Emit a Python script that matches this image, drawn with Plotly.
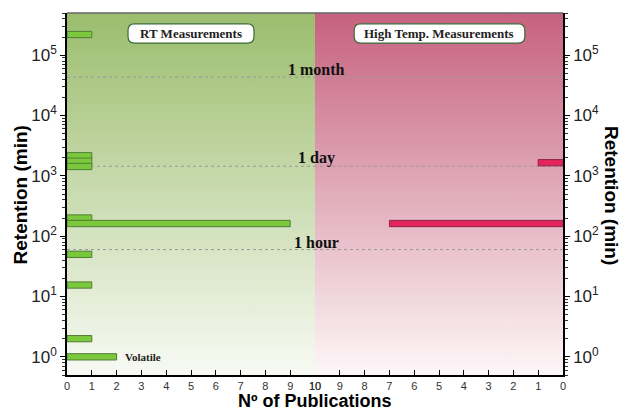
import numpy as np
import plotly.graph_objects as go

# Retention time (min) of reported devices and number of publications
rt_retention = [2.2e5, 2150, 1750, 1430, 200, 162, 50, 15.5, 2.0, 1.0]
rt_publications = [1, 1, 1, 1, 1, 9, 1, 1, 1, 2]
ht_retention = [1650, 162]
ht_publications = [1, 7]

# Reference durations drawn as dotted guides
milestone_labels = ["1 month", "1 day", "1 hour"]
milestone_minutes = [43200, 1440, 60]

x_ticks = list(range(0, 11))
y_decades = [0, 1, 2, 3, 4, 5]
y_min, y_max = 0.5, 5e5
x_max = 10

HALF = 0.052  # bar half thickness, in decades

GREEN_FILL, GREEN_EDGE = "#7bc83c", "#4f7f35"
PINK_FILL, PINK_EDGE = "#e4245c", "#8e2446"
SERIF = "Liberation Serif"
SANS = "Liberation Sans"


def bar_shape(count, value):
    k = 10 ** HALF
    xs = [0, count, count, 0, 0]
    ys = [value / k, value / k, value * k, value * k, value / k]
    return xs, ys


fig = go.Figure()

# gradient backgrounds for the two panels
for xa, ya, top in [("x", "y", "#9bbd6d"), ("x2", "y2", "#c6617f")]:
    bottom = "#f8faf4" if xa == "x" else "#fdf7f8"
    fig.add_trace(go.Scatter(
        x=[0, x_max, x_max, 0, 0], y=[y_min, y_min, y_max, y_max, y_min],
        mode="lines", line=dict(width=0), fill="toself",
        fillgradient=dict(type="vertical", colorscale=[[0, bottom], [1, top]]),
        xaxis=xa, yaxis=ya, hoverinfo="skip", showlegend=False))

# dotted guides
for m in milestone_minutes:
    for xa, ya in [("x", "y"), ("x2", "y2")]:
        fig.add_trace(go.Scatter(
            x=[0, x_max], y=[m, m], mode="lines",
            line=dict(color="#9a9a9a", width=1, dash="dot"),
            xaxis=xa, yaxis=ya, hoverinfo="skip", showlegend=False))

# bars
for ret, n in zip(rt_retention, rt_publications):
    xs, ys = bar_shape(n, ret)
    fig.add_trace(go.Scatter(
        x=xs, y=ys, mode="lines", fill="toself", fillcolor=GREEN_FILL,
        line=dict(color=GREEN_EDGE, width=1), xaxis="x", yaxis="y",
        showlegend=False, name="RT"))
for ret, n in zip(ht_retention, ht_publications):
    xs, ys = bar_shape(n, ret)
    fig.add_trace(go.Scatter(
        x=xs, y=ys, mode="lines", fill="toself", fillcolor=PINK_FILL,
        line=dict(color=PINK_EDGE, width=1), xaxis="x2", yaxis="y2",
        showlegend=False, name="High Temp."))

tickvals = [10 ** d for d in y_decades]
ticktext = [f"10<sup>{d}</sup>" for d in y_decades]
minor_vals = [m * 10 ** e for e in range(-1, 6) for m in range(2, 10)
              if y_min <= m * 10 ** e <= y_max]

x_common = dict(tickvals=x_ticks, ticks="inside", ticklen=5,
                tickcolor="black", showline=True, linecolor="black", linewidth=1.5,
                showgrid=False, zeroline=False,
                tickfont=dict(family=SANS, size=11, color="#333"))
y_common = dict(type="log", range=[np.log10(y_min), np.log10(y_max)],
                tickvals=tickvals, ticktext=ticktext, ticks="outside", ticklen=5,
                tickcolor="black", showline=True, linecolor="black", linewidth=1.5,
                showgrid=False, zeroline=False,
                minor=dict(tickvals=minor_vals, ticks="outside", ticklen=3,
                           tickcolor="#333", showgrid=False),
                tickfont=dict(family=SANS, size=17, color="#222"))

fig.update_layout(
    width=622, height=410,
    margin=dict(l=67, r=59, t=13, b=35),
    paper_bgcolor="white", plot_bgcolor="white",
    xaxis=dict(domain=[0, 0.5], anchor="y", range=[0, x_max], **x_common),
    xaxis2=dict(domain=[0.5, 1], anchor="y", range=[x_max, 0], **x_common),
    yaxis=dict(anchor="x", side="left", **y_common),
    yaxis2=dict(anchor="x2", side="right", overlaying="y", **y_common),
)

# top frame line
fig.add_shape(type="line", xref="paper", yref="paper", x0=0, x1=1, y0=1, y1=1,
              line=dict(color="#666", width=1.5))


def rounded_box(x0, x1, y0, y1, rx, ry):
    return (f"M {x0 + rx},{y0} L {x1 - rx},{y0} Q {x1},{y0} {x1},{y0 + ry} "
            f"L {x1},{y1 - ry} Q {x1},{y1} {x1 - rx},{y1} L {x0 + rx},{y1} "
            f"Q {x0},{y1} {x0},{y1 - ry} L {x0},{y0 + ry} Q {x0},{y0} {x0 + rx},{y0} Z")


panel_titles = [("RT Measurements", 0.123, 0.377), ("High Temp. Measurements", 0.579, 0.923)]
for text, bx0, bx1 in panel_titles:
    fig.add_shape(type="path", xref="paper", yref="paper",
                  path=rounded_box(bx0, bx1, 0.917, 0.970, 0.013, 0.018),
                  fillcolor="white", line=dict(color="#3b6b3b", width=1.2))
    fig.add_annotation(text=f"<b>{text}</b>", xref="paper", yref="paper",
                       x=(bx0 + bx1) / 2, y=0.9435, xanchor="center", yanchor="middle",
                       showarrow=False,
                       font=dict(family=SERIF, size=13, color="#222"))

for label, m in zip(milestone_labels, milestone_minutes):
    fig.add_annotation(text=f"<b>{label}</b>", xref="paper", yref="y", x=0.504, y=np.log10(m),
                       xanchor="center", yanchor="bottom", yshift=-3, showarrow=False,
                       font=dict(family=SERIF, size=16, color="#111"))

fig.add_annotation(text="<b>Volatile</b>", xref="x", yref="y",
                   x=rt_publications[-1], y=np.log10(rt_retention[-1]),
                   xanchor="left", yanchor="middle", xshift=6, showarrow=False,
                   font=dict(family=SERIF, size=11, color="#222"))

# axis titles
fig.add_annotation(text="<b>Retention (min)</b>", xref="paper", yref="paper",
                   x=-0.094, y=0.497, xanchor="center", yanchor="middle",
                   textangle=-90, showarrow=False,
                   font=dict(family=SANS, size=19, color="black"))
fig.add_annotation(text="<b>Retention (min)</b>", xref="paper", yref="paper",
                   x=1.099, y=0.497, xanchor="center", yanchor="middle",
                   textangle=90, showarrow=False,
                   font=dict(family=SANS, size=19, color="black"))
fig.add_annotation(text="<b>Nº of Publications</b>", xref="paper", yref="paper",
                   x=0.5, y=-0.0725, xanchor="center", yanchor="middle", showarrow=False,
                   borderpad=0, font=dict(family=SANS, size=18, color="black"))

fig.write_html("out.html")
